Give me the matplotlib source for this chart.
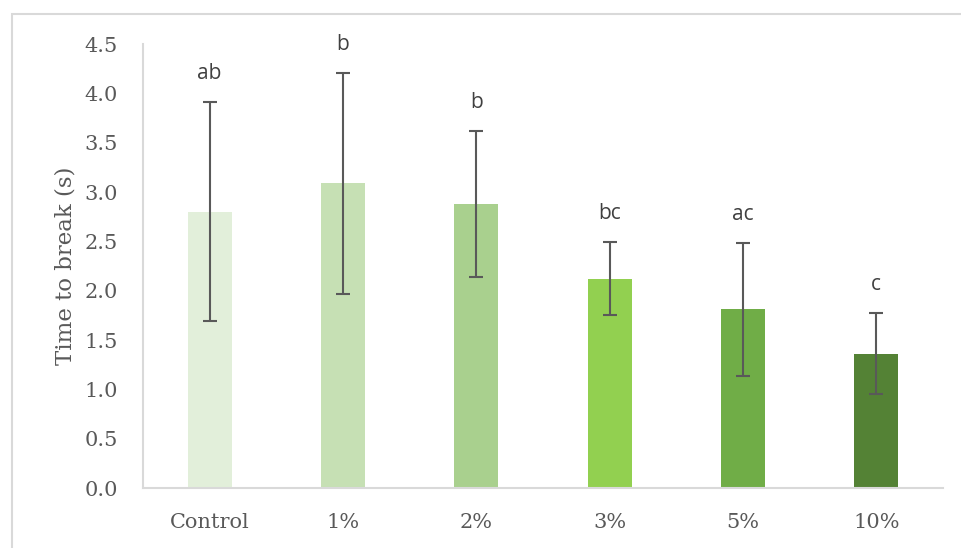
import matplotlib.pyplot as plt
from matplotlib.patches import Rectangle

categories = ['Control', '1%', '2%', '3%', '5%', '10%']
means = [2.80, 3.09, 2.88, 2.12, 1.81, 1.36]
errors = [1.11, 1.12, 0.74, 0.37, 0.67, 0.41]
letters = ['ab', 'b', 'b', 'bc', 'ac', 'c']
colors = ['#e2efda', '#c6e0b4', '#a9d08e', '#92d050', '#70ad47', '#548235']
yticks = [0.0, 0.5, 1.0, 1.5, 2.0, 2.5, 3.0, 3.5, 4.0, 4.5]

fig = plt.figure(figsize=(9.61, 5.48), dpi=100)
ax = fig.add_axes([143 / 961, 1 - 488 / 548, 800 / 961, 444 / 548])

# outer chart border (Excel chart area)
fig.patches.append(Rectangle((12 / 961, -0.2), 1.2, 1.2 - 14 / 548,
                             transform=fig.transFigure, fill=False,
                             edgecolor='#d9d9d9', linewidth=1.5))

x = list(range(len(categories)))
ax.bar(x, means, width=0.33, color=colors, zorder=2)
ax.errorbar(x, means, yerr=errors, fmt='none', ecolor='#595959',
            elinewidth=1.5, capsize=4.7, capthick=1.5, zorder=3)

for xi, m, e, lab in zip(x, means, errors, letters):
    ax.text(xi, m + e + 0.29, lab, ha='center', va='center',
            fontsize=15, color='#404040', family='Open Sans')

ax.set_xlim(-0.5, 5.5)
ax.set_ylim(0, 4.5)
ax.set_yticks(yticks)
ax.set_yticklabels([f'{v:.1f}' for v in yticks])
ax.set_xticks(x)
ax.set_xticklabels(categories)
ax.tick_params(length=0, labelsize=15, labelcolor='#595959', pad=18)
for lab in ax.get_xticklabels() + ax.get_yticklabels():
    lab.set_family('DejaVu Serif')

ax.set_ylabel('Time to break (s)', fontsize=16.5, color='#595959',
              family='DejaVu Serif', labelpad=6)

for s in ['top', 'right']:
    ax.spines[s].set_visible(False)
for s in ['left', 'bottom']:
    ax.spines[s].set_color('#d9d9d9')
    ax.spines[s].set_linewidth(1.5)

plt.savefig('out.png', dpi=100)
